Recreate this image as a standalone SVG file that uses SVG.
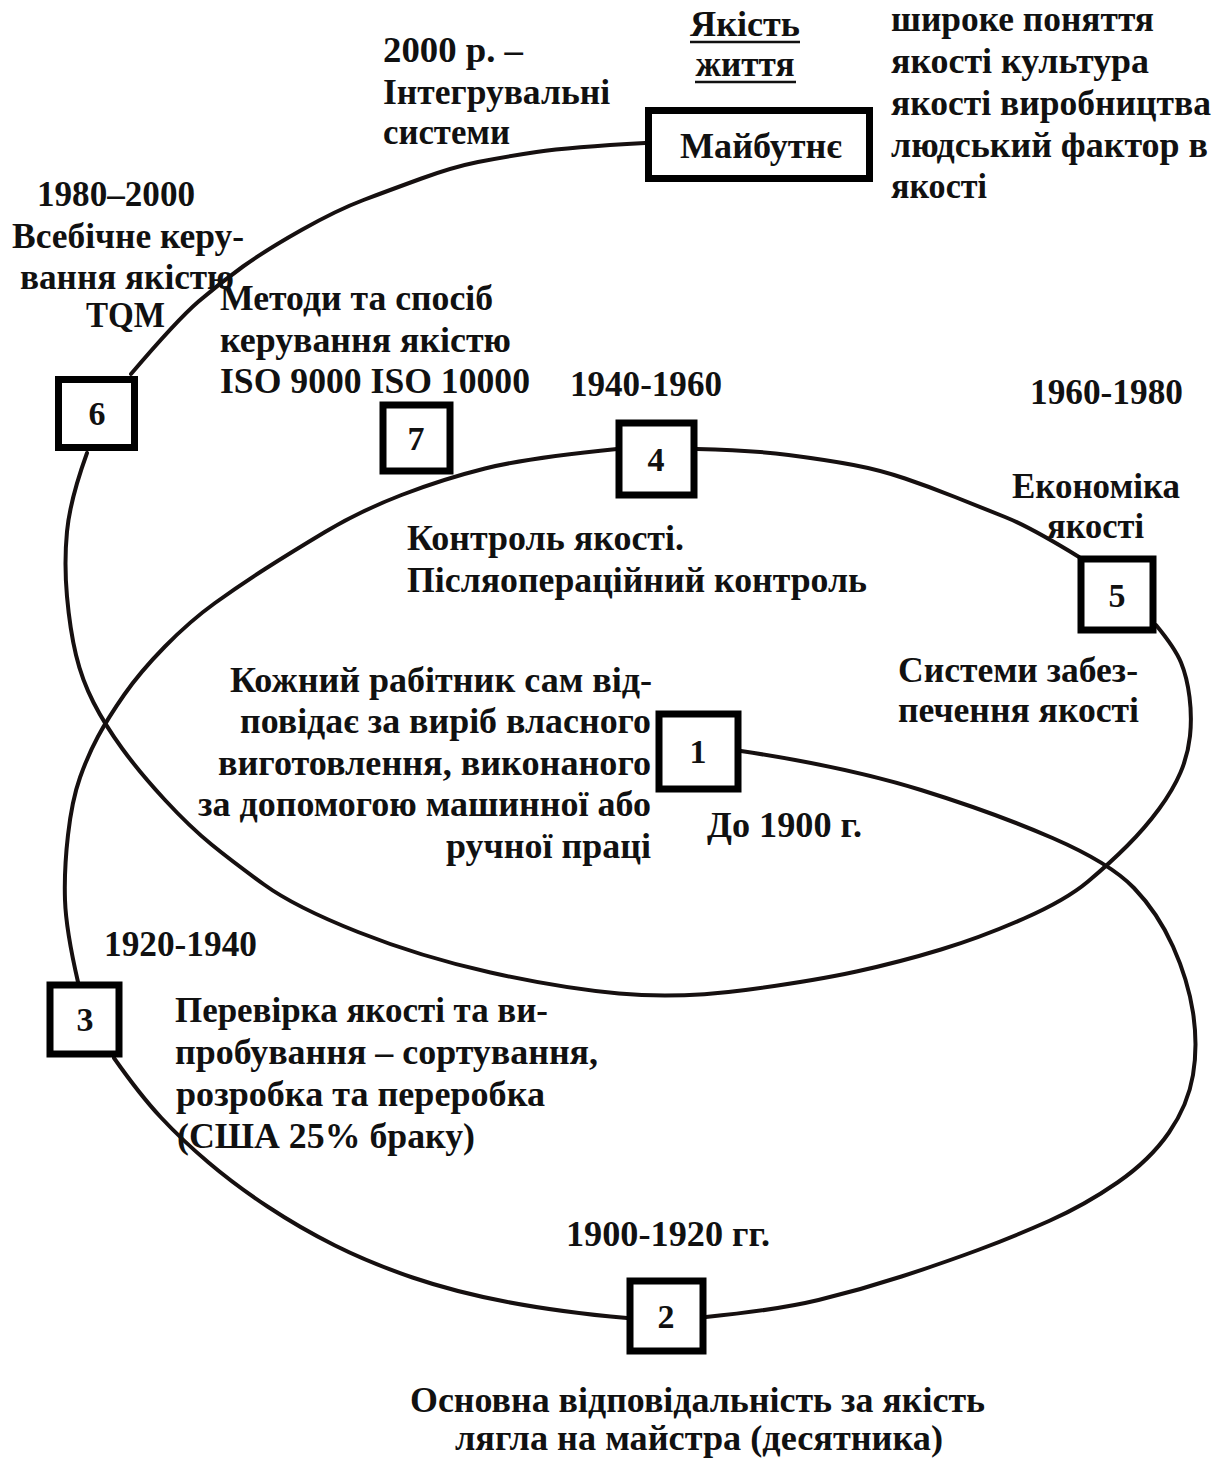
<svg xmlns="http://www.w3.org/2000/svg" width="1222" height="1460" viewBox="0 0 1222 1460">
<style>
text{font-family:"Liberation Serif","Times New Roman",serif;font-weight:bold;font-size:36px;fill:#111}
.c{text-anchor:middle}
.e{text-anchor:end}
.n{font-size:34px;text-anchor:middle}
.box{fill:#fff;stroke:#000;stroke-width:7}
.lnk{fill:none;stroke:#161010;stroke-width:4;stroke-linecap:round;stroke-linejoin:round}
.ul{stroke:#111;stroke-width:2.5}
</style>
<rect width="1222" height="1460" fill="#fff"/>
<g id="connectors">
<path class="lnk" d="M741,751 Q847,767 921,790 Q995,813 1052.5,838 Q1110,863 1134,888 Q1158,913 1173,946.5 Q1188,980 1193,1012.5 Q1198,1045 1193,1075 Q1188,1105 1169,1132.5 Q1150,1160 1117.5,1182.5 Q1085,1205 1049,1221 Q1013,1237 978,1250 Q943,1263 901.5,1276.5 Q860,1290 818.5,1300 Q777,1310 706,1317"/>
<path class="lnk" d="M627,1318 Q560,1312 507.5,1302 Q455,1292 412.5,1277.5 Q370,1263 335,1245.5 Q300,1228 267.5,1206.5 Q235,1185 208.5,1162.5 Q182,1140 161,1117.5 Q140,1095 114,1058"/>
<path class="lnk" d="M78,982 Q66,930 65,900 Q64,870 68,835 Q72,800 80,777.5 Q88,755 98,736.5 Q108,718 124,695 Q140,672 165,646.5 Q190,621 215,603 Q240,585 265,569 Q290,553 325,532 Q360,511 401.5,495 Q443,479 485,468.5 Q527,458 617,449"/>
<path class="lnk" d="M697,449 Q750,450 788.5,455 Q827,460 853.5,465 Q880,470 905,478.5 Q930,487 955,497 Q980,507 1005,517 Q1030,527 1079,557"/>
<path class="lnk" d="M1156,625 Q1175,648 1181,662.5 Q1187,677 1189.5,697 Q1192,717 1190,736 Q1188,755 1180.5,772.5 Q1173,790 1159,809 Q1145,828 1127.5,845.5 Q1110,863 1088,881.5 Q1066,900 1024,918.5 Q982,937 941,949.5 Q900,962 856.5,971.5 Q813,981 745.5,990 Q678,999 619,993.5 Q560,988 490.5,972.5 Q421,957 358,932 Q295,907 264,884.5 Q233,862 211.5,844.5 Q190,827 165,800 Q140,773 122.5,749 Q105,725 93.5,702.5 Q82,680 76,655 Q70,630 67,596.5 Q64,563 67,531.5 Q70,500 87,453"/>
<path class="lnk" d="M131,374 Q177,320 198.5,301.5 Q220,283 243,266.5 Q266,250 301.5,230 Q337,210 363.5,200 Q390,190 421.5,178.5 Q453,167 478,162 Q503,157 536.5,152 Q570,147 645,143"/>
</g>
<g id="node-future">
<rect class="box" x="648.5" y="110.5" width="221" height="68"/>
<text x="761" y="158" class="c" textLength="162" lengthAdjust="spacingAndGlyphs">Майбутнє</text>
</g>
<g id="node-6"><rect class="box" x="58.5" y="379.5" width="76" height="68"/><text class="n" x="97" y="425">6</text></g>
<g id="node-7"><rect class="box" x="383" y="405" width="67" height="66"/><text class="n" x="416" y="450">7</text></g>
<g id="node-4"><rect class="box" x="619" y="423" width="75" height="72"/><text class="n" x="656" y="471">4</text></g>
<g id="node-5"><rect class="box" x="1081" y="559" width="72" height="71"/><text class="n" x="1117" y="607">5</text></g>
<g id="node-1"><rect class="box" x="659" y="714" width="79" height="75"/><text class="n" x="698" y="763">1</text></g>
<g id="node-3"><rect class="box" x="50" y="985" width="69" height="69"/><text class="n" x="85" y="1031">3</text></g>
<g id="node-2"><rect class="box" x="630" y="1281" width="73" height="70"/><text class="n" x="666" y="1328">2</text></g>
<g id="labels">
<text x="745" y="36" class="c" textLength="110" lengthAdjust="spacingAndGlyphs">Якість</text>
<line class="ul" x1="690" y1="42" x2="800" y2="42"/>
<text x="745" y="76" class="c" textLength="99" lengthAdjust="spacingAndGlyphs">життя</text>
<line class="ul" x1="695" y1="82" x2="796" y2="82"/>
<text x="383" y="62" textLength="140" lengthAdjust="spacingAndGlyphs">2000 р. –</text>
<text x="383" y="104" textLength="227" lengthAdjust="spacingAndGlyphs">Інтегрувальні</text>
<text x="383" y="144" textLength="127" lengthAdjust="spacingAndGlyphs">системи</text>
<text x="891" y="31" textLength="263" lengthAdjust="spacingAndGlyphs">широке поняття</text>
<text x="891" y="73" textLength="258" lengthAdjust="spacingAndGlyphs">якості культура</text>
<text x="891" y="115" textLength="320" lengthAdjust="spacingAndGlyphs">якості виробництва</text>
<text x="891" y="157" textLength="317" lengthAdjust="spacingAndGlyphs">людський фактор в</text>
<text x="891" y="198" textLength="96" lengthAdjust="spacingAndGlyphs">якості</text>
<text x="116" y="206" class="c" textLength="158" lengthAdjust="spacingAndGlyphs">1980–2000</text>
<text x="12" y="248" textLength="232" lengthAdjust="spacingAndGlyphs">Всебічне керу-</text>
<text x="20" y="289" textLength="214" lengthAdjust="spacingAndGlyphs">вання якістю</text>
<text x="86" y="327" textLength="79" lengthAdjust="spacingAndGlyphs">TQM</text>
<text x="220" y="310" textLength="273" lengthAdjust="spacingAndGlyphs">Методи та спосіб</text>
<text x="220" y="352" textLength="291" lengthAdjust="spacingAndGlyphs">керування якістю</text>
<text x="220" y="393" textLength="310" lengthAdjust="spacingAndGlyphs">ISO 9000 ISO 10000</text>
<text x="570" y="396" textLength="152" lengthAdjust="spacingAndGlyphs">1940-1960</text>
<text x="1030" y="404" textLength="153" lengthAdjust="spacingAndGlyphs">1960-1980</text>
<text x="1012" y="498" textLength="168" lengthAdjust="spacingAndGlyphs">Економіка</text>
<text x="1047" y="538" textLength="97" lengthAdjust="spacingAndGlyphs">якості</text>
<text x="407" y="550" textLength="277" lengthAdjust="spacingAndGlyphs">Контроль якості.</text>
<text x="407" y="592" textLength="460" lengthAdjust="spacingAndGlyphs">Післяопераційний контроль</text>
<text x="898" y="682" textLength="240" lengthAdjust="spacingAndGlyphs">Системи забез-</text>
<text x="898" y="722" textLength="241" lengthAdjust="spacingAndGlyphs">печення якості</text>
<text x="652" y="692" class="e" textLength="422" lengthAdjust="spacingAndGlyphs">Кожний рабітник сам від-</text>
<text x="651" y="733" class="e" textLength="411" lengthAdjust="spacingAndGlyphs">повідає за виріб власного</text>
<text x="651" y="775" class="e" textLength="433" lengthAdjust="spacingAndGlyphs">виготовлення, виконаного</text>
<text x="651" y="816" class="e" textLength="453" lengthAdjust="spacingAndGlyphs">за допомогою машинної або</text>
<text x="651" y="858" class="e" textLength="205" lengthAdjust="spacingAndGlyphs">ручної праці</text>
<text x="707" y="837" textLength="155" lengthAdjust="spacingAndGlyphs">До 1900 г.</text>
<text x="104" y="956" textLength="153" lengthAdjust="spacingAndGlyphs">1920-1940</text>
<text x="175" y="1022" textLength="373" lengthAdjust="spacingAndGlyphs">Перевірка якості та ви-</text>
<text x="175" y="1064" textLength="423" lengthAdjust="spacingAndGlyphs">пробування – сортування,</text>
<text x="176" y="1106" textLength="369" lengthAdjust="spacingAndGlyphs">розробка та переробка</text>
<text x="177" y="1148" textLength="298" lengthAdjust="spacingAndGlyphs">(США 25% браку)</text>
<text x="566" y="1246" textLength="204" lengthAdjust="spacingAndGlyphs">1900-1920 гг.</text>
<text x="410" y="1412" textLength="575" lengthAdjust="spacingAndGlyphs">Основна відповідальність за якість</text>
<text x="455" y="1450" textLength="488" lengthAdjust="spacingAndGlyphs">лягла на майстра (десятника)</text>
</g>
</svg>
